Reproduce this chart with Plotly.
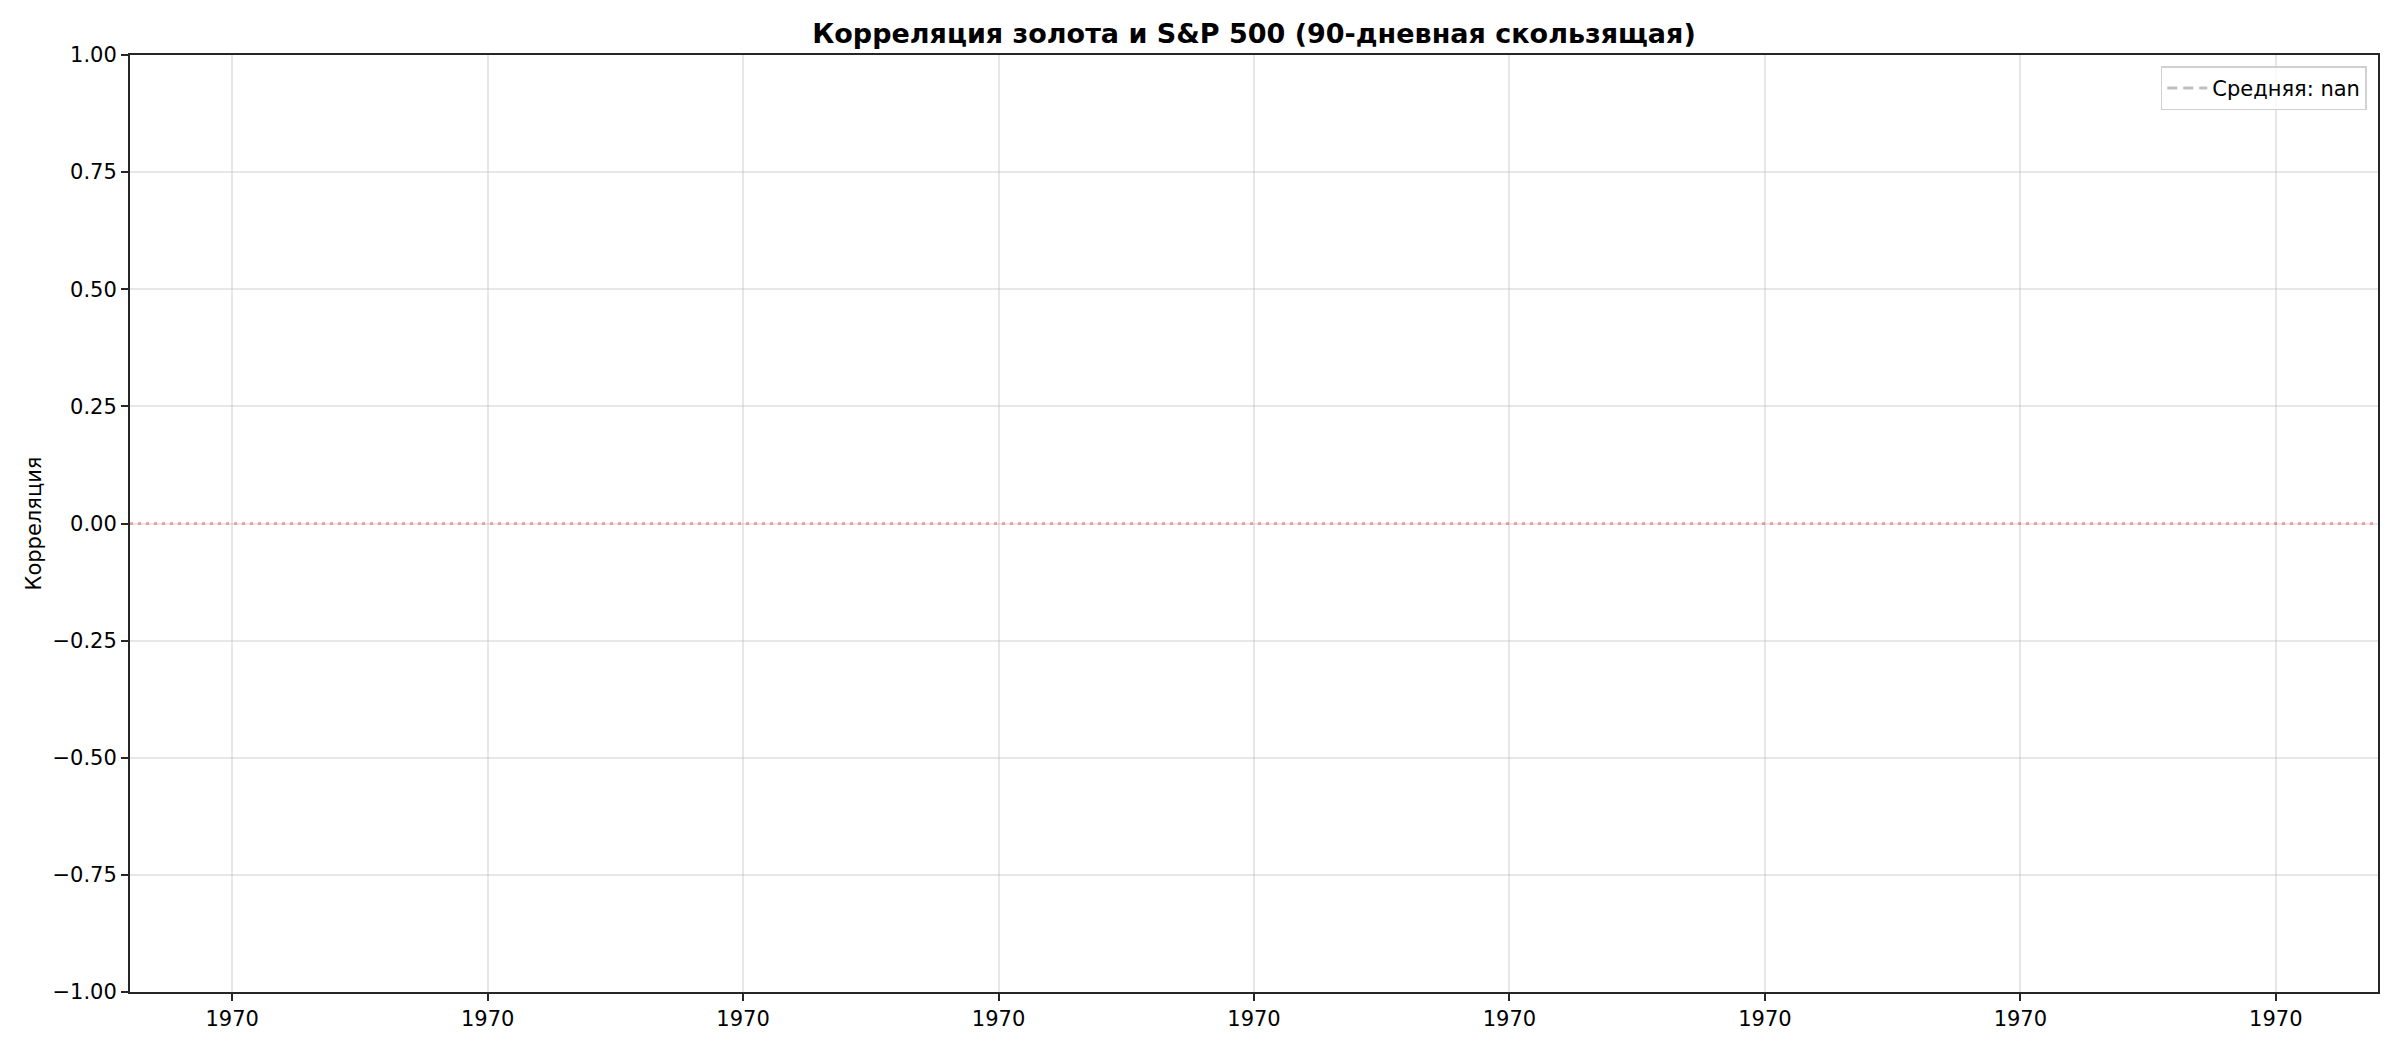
import math
import plotly.graph_objects as go

# rolling 90-day correlation gold vs S&P 500 -- came out empty
dates = []
corr_values = []
mean_corr = float("nan")

# matplotlib date axis with no data: every tick reads 1970
tick_pos = [0, 1, 2, 3, 4, 5, 6, 7, 8]
tick_text = ["1970"] * 9
y_ticks = [-1.0, -0.75, -0.5, -0.25, 0.0, 0.25, 0.5, 0.75, 1.0]
y_text = [f"{v:.2f}".replace("-", "\u2212") for v in y_ticks]

font = "DejaVu Sans"

# page body has an 8px margin, so the figure is 8px smaller
W, H = 2392, 1042

fig = go.Figure()

fig.add_trace(go.Scatter(
    x=dates, y=corr_values, mode="lines",
    line=dict(color="#1f77b4", width=2),
    showlegend=False,
))

# mean line (nan -> nothing drawn, only the legend entry)
fig.add_trace(go.Scatter(
    x=[tick_pos[0], tick_pos[-1]], y=[mean_corr, mean_corr], mode="lines",
    line=dict(color="rgba(128,128,128,0.5)", width=3, dash="10px,6px"),
    name=f"Средняя: {'nan' if math.isnan(mean_corr) else round(mean_corr, 3)}",
    showlegend=True,
))

# zero line
fig.add_shape(type="line", xref="paper", x0=0, x1=1, yref="y", y0=0, y1=0,
              line=dict(color="rgba(255,0,0,0.33)", width=3, dash="3px,5px"))

fig.update_layout(
    width=W, height=H,
    paper_bgcolor="white", plot_bgcolor="white",
    margin=dict(l=122, r=22, t=47, b=58),
    font=dict(family=font, size=21, color="black"),
    title=dict(text="<b>Корреляция золота и S&P 500 (90-дневная скользящая)</b>",
               x=0.5, xref="paper", xanchor="center",
               y=1 - 26 / H, yref="container", yanchor="middle",
               font=dict(size=27, family=font, color="black")),
    legend=dict(x=0.995, y=0.988, xanchor="right", yanchor="top",
                bgcolor="rgba(255,255,255,0.8)", bordercolor="#d0d0d0", borderwidth=1.5,
                itemwidth=40, font=dict(size=21, family=font)),
    showlegend=True,
)

fig.update_xaxes(
    range=[-0.4, 8.4], tickmode="array", tickvals=tick_pos, ticktext=tick_text,
    showgrid=True, gridcolor="rgba(176,176,176,0.3)", gridwidth=1.5,
    showline=True, linecolor="#262626", linewidth=2, mirror=True,
    ticks="outside", ticklen=7, tickwidth=2, tickcolor="#262626",
    zeroline=False, tickfont=dict(size=21, family=font),
)
fig.update_yaxes(
    range=[-1, 1], tickmode="array", tickvals=y_ticks, ticktext=y_text,
    showgrid=True, gridcolor="rgba(176,176,176,0.3)", gridwidth=1.5,
    showline=True, linecolor="#262626", linewidth=2, mirror=True,
    ticks="outside", ticklen=7, tickwidth=2, tickcolor="#262626",
    zeroline=False, tickfont=dict(size=21, family=font),
)

fig.add_annotation(text="Корреляция", xref="paper", yref="paper",
                   x=(25 - 122) / (W - 122 - 22), y=0.5, xanchor="center", yanchor="middle",
                   textangle=-90, showarrow=False, font=dict(size=21, family=font))

fig.write_html("out.html")
